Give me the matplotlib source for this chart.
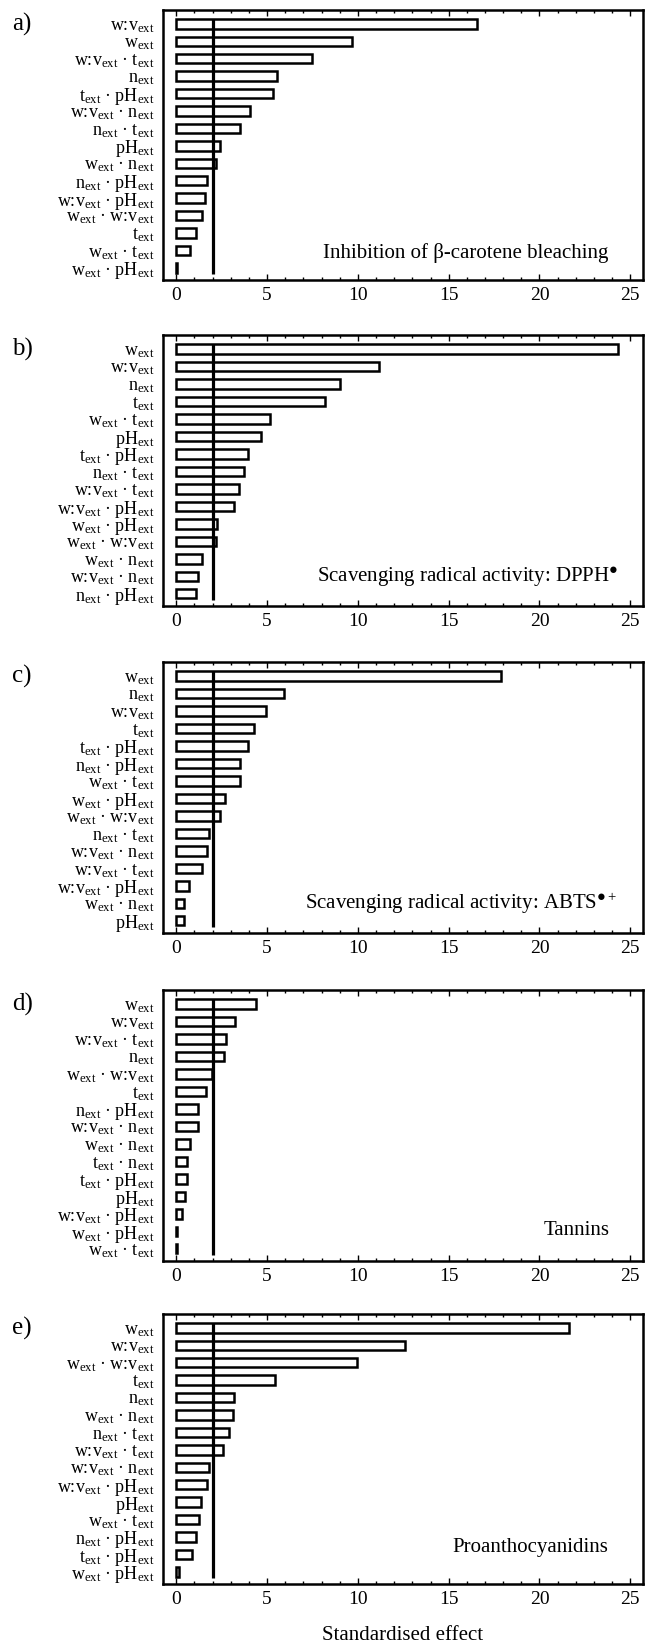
import matplotlib
matplotlib.use("Agg")
import matplotlib.pyplot as plt
from matplotlib.ticker import MultipleLocator

plt.rcParams['font.family'] = ['Liberation Serif', 'DejaVu Serif']
plt.rcParams['mathtext.fontset'] = 'stix'
plt.rcParams['mathtext.default'] = 'regular'

# ---------------- data ----------------
labels_a = ["w:v", "w", "w:v·t", "n", "t·pH", "w:v·n", "n·t", "pH", "w·n",
            "n·pH", "w:v·pH", "w·w:v", "t", "w·t", "w·pH"]
values_a = [16.57, 9.69, 7.45, 5.52, 5.34, 4.08, 3.51, 2.43, 2.18,
            1.67, 1.58, 1.44, 1.10, 0.73, 0.02]

labels_b = ["w", "w:v", "n", "t", "w·t", "pH", "t·pH", "n·t", "w:v·t",
            "w:v·pH", "w·pH", "w·w:v", "w·n", "w:v·n", "n·pH"]
values_b = [24.31, 11.16, 9.01, 8.17, 5.17, 4.69, 3.93, 3.71, 3.48,
            3.18, 2.24, 2.20, 1.44, 1.17, 1.10]

labels_c = ["w", "n", "w:v", "t", "t·pH", "n·pH", "w·t", "w·pH", "w·w:v",
            "n·t", "w:v·n", "w:v·t", "w:v·pH", "w·n", "pH"]
values_c = [17.87, 5.93, 4.95, 4.29, 3.94, 3.53, 3.53, 2.70, 2.43,
            1.79, 1.67, 1.44, 0.69, 0.44, 0.44]

labels_d = ["w", "w:v", "w:v·t", "n", "w·w:v", "t", "n·pH", "w:v·n", "w·n",
            "t·n", "t·pH", "pH", "w:v·pH", "w·pH", "w·t"]
values_d = [4.40, 3.23, 2.75, 2.64, 1.95, 1.65, 1.17, 1.17, 0.78,
            0.57, 0.57, 0.50, 0.32, 0.02, 0.02]

labels_e = ["w", "w:v", "w·w:v", "t", "n", "w·n", "n·t", "w:v·t", "w:v·n",
            "w:v·pH", "pH", "w·t", "n·pH", "t·pH", "w·pH"]
values_e = [21.64, 12.57, 9.94, 5.44, 3.20, 3.11, 2.93, 2.58, 1.83,
            1.69, 1.35, 1.26, 1.10, 0.85, 0.16]

titles = ["Inhibition of β-carotene bleaching",
          "Scavenging radical activity: DPPH$^{●}$",
          "Scavenging radical activity: ABTS$^{●+}$",
          "Tannins",
          "Proanthocyanidins"]
panel_letters = ["a)", "b)", "c)", "d)", "e)"]
threshold = 2.0
xticks = [0, 5, 10, 15, 20, 25]
xlabel = "Standardised effect"

panels = [(labels_a, values_a), (labels_b, values_b), (labels_c, values_c),
          (labels_d, values_d), (labels_e, values_e)]


def fmt(term):
    parts = term.split("·")
    return " · ".join(p + "$_{ext}$" for p in parts)


# ---------------- layout ----------------
W, H = 651, 1646
fig = plt.figure(figsize=(W / 100, H / 100), dpi=100)
left_px, right_px = 163, 643
tops = [10, 335, 662, 990, 1314]
bots = [280, 606, 933, 1261, 1584]
title_y = [0.10, 0.107, 0.11, 0.114, 0.135]
title_x = [23.8, 24.35, 24.3, 23.85, 23.8]

for i, ((labs, vals), title) in enumerate(zip(panels, titles)):
    ax = fig.add_axes([left_px / W, 1 - bots[i] / H,
                       (right_px - left_px) / W, (bots[i] - tops[i]) / H])
    pos = list(range(len(vals)))
    ax.barh(pos, vals, height=0.54, color='white', edgecolor='black',
            linewidth=1.8, zorder=2)
    ax.vlines(threshold, -0.3, len(vals) - 0.65, color='black', lw=2.3, zorder=3)
    ax.set_ylim(len(vals) - 0.3, -0.8)
    ax.set_xlim(-0.73, 25.7)
    ax.set_yticks(pos)
    ax.set_yticklabels([fmt(l) for l in labs], fontsize=13)
    ax.set_xticks(xticks)
    ax.set_xticklabels([str(t) for t in xticks], fontsize=14)
    ax.xaxis.set_minor_locator(MultipleLocator(1))
    ax.tick_params(axis='x', which='both', direction='in', top=True, bottom=True,
                   width=1, pad=5)
    ax.tick_params(axis='x', which='major', length=4.5)
    ax.tick_params(axis='x', which='minor', length=2.5)
    ax.tick_params(axis='y', length=0, pad=6)
    for s in ax.spines.values():
        s.set_linewidth(1.8)
    ax.text(title_x[i], title_y[i], title, transform=ax.get_xaxis_transform(),
            ha='right', va='center', fontsize=15)
    fig.text(12 / W, 1 - (tops[i] + 14) / H, panel_letters[i], fontsize=18,
             ha='left', va='center')

fig.text((left_px + right_px) / 2 / W, 1 - 1635 / H, xlabel, fontsize=15,
         ha='center', va='center')

fig.savefig("out.png", dpi=100)
